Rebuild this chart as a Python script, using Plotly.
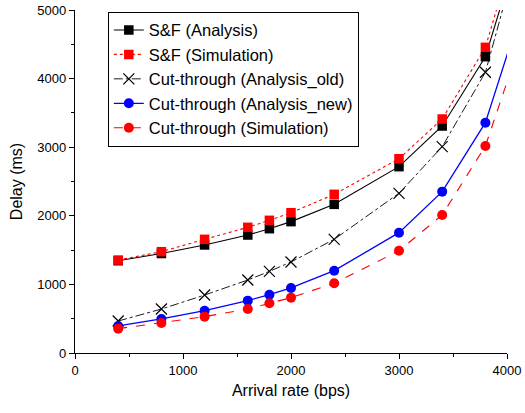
import plotly.graph_objects as go

# Arrival rate (bps); last point lies beyond the 4000 axis limit (clipped)
arrival = [400, 800, 1200, 1600, 1800, 2000, 2400, 3000, 3400, 3800, 4200]

sf_analysis = [1345, 1450, 1575, 1720, 1812, 1915, 2167, 2716, 3309, 4319, 6380]
sf_simulation = [1355, 1477, 1657, 1832, 1934, 2045, 2313, 2832, 3411, 4456, 6590]
ct_analysis_old = [466, 641, 845, 1064, 1190, 1327, 1657, 2328, 3008, 4092, 6380]
ct_analysis_new = [394, 496, 617, 763, 850, 948, 1200, 1754, 2352, 3357, 5330]
ct_simulation = [355, 437, 530, 641, 724, 807, 1016, 1491, 2012, 3017, 4880]

x_ticks = [0, 1000, 2000, 3000, 4000]
y_ticks = [0, 1000, 2000, 3000, 4000, 5000]

series = [
    ("S&F (Analysis)", sf_analysis, "black", "solid", "square", 9.5, 1.1),
    ("S&F (Simulation)", sf_simulation, "red", "dot", "square", 9.5, 1.1),
    ("Cut-through (Analysis_old)", ct_analysis_old, "black", "dashdot", "x-thin", 11, 0.9),
    ("Cut-through (Analysis_new)", ct_analysis_new, "blue", "solid", "circle", 10, 1.3),
    ("Cut-through (Simulation)", ct_simulation, "red", "dash", "circle", 10, 1.1),
]

fig = go.Figure()
for name, ys, color, dash, symbol, size, lw in series:
    marker = dict(symbol=symbol, size=size, color=color)
    if symbol == "x-thin":
        marker["line"] = dict(width=1.2, color=color)
    fig.add_trace(go.Scatter(
        x=arrival, y=ys, name=name, mode="lines+markers",
        line=dict(color=color, dash=dash, width=lw),
        marker=marker, cliponaxis=True,
    ))

axis_common = dict(
    showline=True, linecolor="black", linewidth=1.3, mirror=False,
    ticks="outside", ticklen=5, tickwidth=1.2, tickcolor="black",
    showgrid=False, zeroline=False, automargin=False,
    tickfont=dict(family="Arial, Liberation Sans", size=13, color="black"),
    minor=dict(ticks="outside", ticklen=3, tickwidth=1, tickcolor="black"),
)

fig.update_layout(
    width=525, height=413,
    margin=dict(l=75, r=18, t=10, b=60),
    paper_bgcolor="white", plot_bgcolor="white",
    font=dict(family="Arial, Liberation Sans", color="black"),
    xaxis=dict(range=[0, 4000], tickvals=x_ticks, ticktext=[str(v) for v in x_ticks],
               title=dict(text="Arrival rate (bps)", font=dict(size=16), standoff=8),
               **axis_common),
    yaxis=dict(range=[0, 5000], tickvals=y_ticks, ticktext=[str(v) for v in y_ticks],
               title=dict(text="Delay (ms)", font=dict(size=16), standoff=10),
               **axis_common),
    legend=dict(
        x=0.076, y=0.995, xanchor="left", yanchor="top",
        bgcolor="white", bordercolor="black", borderwidth=1,
        font=dict(size=16.5, family="Arial, Liberation Sans"),
        tracegroupgap=0,
    ),
    showlegend=True,
)
fig.update_xaxes(minor=dict(dtick=500, tick0=0))
fig.update_yaxes(minor=dict(dtick=500, tick0=0))

fig.write_html("out.html", config={"displayModeBar": False},
               post_script="document.body.style.margin='0';")
